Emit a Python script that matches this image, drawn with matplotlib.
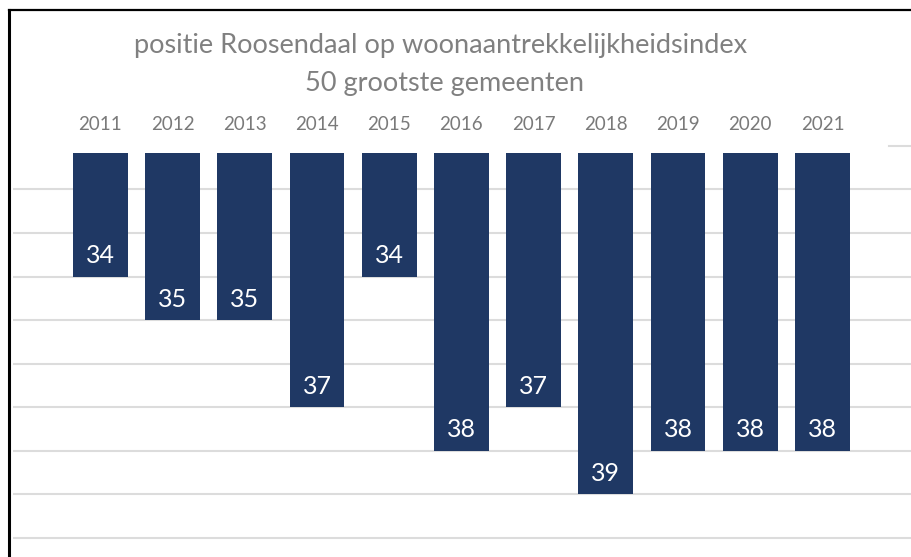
import numpy as np
import matplotlib.pyplot as plt
from matplotlib.lines import Line2D

# data
jaren = ['2011', '2012', '2013', '2014', '2015', '2016', '2017', '2018', '2019', '2020', '2021']
positie = [34, 35, 35, 37, 34, 38, 37, 39, 38, 38, 38]

titel1 = "positie Roosendaal op woonaantrekkelijkheidsindex"
titel2 = "50 grootste gemeenten"

plt.rcParams['font.family'] = ['Lato', 'DejaVu Sans']

kleur_balk = '#1F3864'
kleur_tekst = '#7A7A7A'
kleur_grid = '#DCDCDC'

fig = plt.figure(figsize=(9.12, 5.57), dpi=100)
ax = fig.add_axes([13/912, 0, 899/912, 1])

x = np.arange(len(jaren))
basis = 31.16  # balken hangen vanaf de bovenkant
ax.bar(x, np.array(positie) - basis, bottom=basis, width=0.76, color=kleur_balk, zorder=3)

# gridlijnen
for g in range(32, 41):
    ax.axhline(g, color=kleur_grid, lw=1.5, zorder=1)
ax.axhline(31, xmin=0.974, xmax=1, color=kleur_grid, lw=1.5, zorder=1)

ax.set_xlim(-1.21, 11.24)
ax.set_ylim(40.44, 27.65)  # omgekeerde as
ax.axis('off')

# labels
for xi, v in zip(x, positie):
    ax.text(xi, v - 0.48, str(v), ha='center', va='center', color='white', fontsize=18, zorder=4)
for xi, j in zip(x, jaren):
    ax.text(xi, 30.52, j, ha='center', va='center', color=kleur_tekst, fontsize=13.5)

fig.text(441/912, 1 - 46/557, titel1, ha='center', va='center', color='#808080', fontsize=19.5)
fig.text(445/912, 1 - 83/557, titel2, ha='center', va='center', color='#808080', fontsize=19.5)

# zwarte rand links en boven
fig.add_artist(Line2D([9.5/912, 9.5/912], [0, 1 - 9.5/557], transform=fig.transFigure, color='black', lw=2.2))
fig.add_artist(Line2D([9.5/912, 1], [1 - 9.5/557, 1 - 9.5/557], transform=fig.transFigure, color='black', lw=1.6))

fig.savefig('out.png', dpi=100)
